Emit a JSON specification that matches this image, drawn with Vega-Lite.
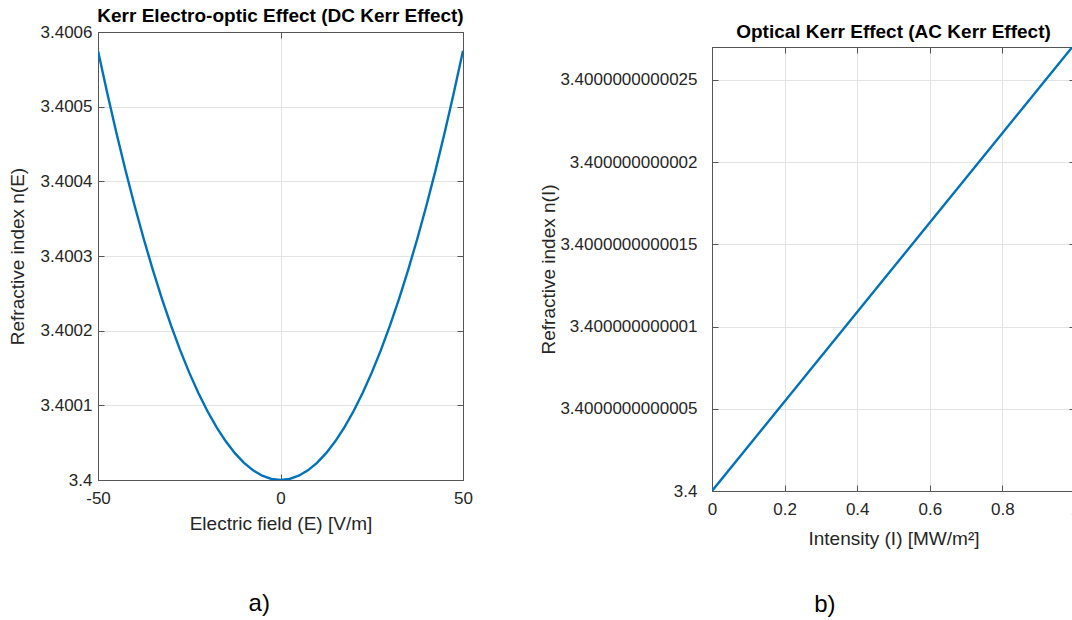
{
  "$schema": "https://vega.github.io/schema/vega-lite/v6.json",
  "background": "white",
  "padding": {"left": 7, "top": 5, "right": 0, "bottom": 0},
  "spacing": 66,
  "datasets": {
    "dc": [
      {"E": -50, "n": 3.400575},
      {"E": -47.5, "n": 3.4005189},
      {"E": -45, "n": 3.4004658},
      {"E": -42.5, "n": 3.4004154},
      {"E": -40, "n": 3.400368},
      {"E": -37.5, "n": 3.4003234},
      {"E": -35, "n": 3.4002818},
      {"E": -32.5, "n": 3.4002429},
      {"E": -30, "n": 3.400207},
      {"E": -27.5, "n": 3.4001739},
      {"E": -25, "n": 3.4001438},
      {"E": -22.5, "n": 3.4001164},
      {"E": -20, "n": 3.400092},
      {"E": -17.5, "n": 3.4000704},
      {"E": -15, "n": 3.4000518},
      {"E": -12.5, "n": 3.4000359},
      {"E": -10, "n": 3.400023},
      {"E": -7.5, "n": 3.4000129},
      {"E": -5, "n": 3.4000058},
      {"E": -2.5, "n": 3.4000014},
      {"E": 0, "n": 3.4},
      {"E": 2.5, "n": 3.4000014},
      {"E": 5, "n": 3.4000058},
      {"E": 7.5, "n": 3.4000129},
      {"E": 10, "n": 3.400023},
      {"E": 12.5, "n": 3.4000359},
      {"E": 15, "n": 3.4000518},
      {"E": 17.5, "n": 3.4000704},
      {"E": 20, "n": 3.400092},
      {"E": 22.5, "n": 3.4001164},
      {"E": 25, "n": 3.4001438},
      {"E": 27.5, "n": 3.4001739},
      {"E": 30, "n": 3.400207},
      {"E": 32.5, "n": 3.4002429},
      {"E": 35, "n": 3.4002818},
      {"E": 37.5, "n": 3.4003234},
      {"E": 40, "n": 3.400368},
      {"E": 42.5, "n": 3.4004154},
      {"E": 45, "n": 3.4004658},
      {"E": 47.5, "n": 3.4005189},
      {"E": 50, "n": 3.400575}
    ],
    "ac": [
      {"I": 0, "n": 3.4},
      {"I": 0.5, "n": 3.40000000000136},
      {"I": 1, "n": 3.40000000000272}
    ],
    "blank": [{"k": 0}]
  },
  "hconcat": [
    {
      "title": {"text": "a)", "orient": "bottom", "anchor": "middle", "fontSize": 24, "fontWeight": "normal", "color": "#000000", "offset": 58, "dx": 19},
      "spacing": 0,
      "vconcat": [
        {
          "width": 365,
          "height": 1,
          "data": {"name": "blank"},
          "view": {"stroke": null},
          "mark": {"type": "point", "opacity": 0, "size": 1},
          "encoding": {}
        },
        {
          "width": 365,
          "height": 448,
          "data": {"name": "dc"},
          "title": {"text": "Kerr Electro-optic Effect (DC Kerr Effect)", "offset": -3},
          "layer": [
            {
              "mark": {"type": "line", "color": "#0072BD", "strokeWidth": 2.4, "clip": true},
              "encoding": {
                "x": {"field": "E", "type": "quantitative", "scale": {"domain": [-50, 50], "nice": false, "zero": false},
                  "axis": {"orient": "bottom", "values": [-50, 0, 50], "labelExpr": "replace(format(datum.value, '~g'), '−', '-')", "title": "Electric field (E) [V/m]", "labelPadding": 16, "titlePadding": 8}},
                "y": {"field": "n", "type": "quantitative", "scale": {"domain": [3.4, 3.4006], "nice": false, "zero": false},
                  "axis": {"orient": "left", "values": [3.4, 3.4001, 3.4002, 3.4003, 3.4004, 3.4005, 3.4006], "labelExpr": "format(datum.value, '~g')", "title": "Refractive index n(E)", "labelPadding": 12, "titlePadding": 13}}
              }
            },
            {
              "mark": {"type": "line", "opacity": 0},
              "encoding": {
                "x": {"field": "E", "type": "quantitative", "scale": {"domain": [-50, 50], "nice": false, "zero": false},
                  "axis": {"orient": "top", "values": [-50, 0, 50], "labels": false, "grid": false, "title": null}},
                "y": {"field": "n", "type": "quantitative", "scale": {"domain": [3.4, 3.4006], "nice": false, "zero": false},
                  "axis": {"orient": "right", "values": [3.4, 3.4001, 3.4002, 3.4003, 3.4004, 3.4005, 3.4006], "labels": false, "grid": false, "title": null}}
              }
            }
          ],
          "resolve": {"axis": {"x": "independent", "y": "independent"}}
        }
      ]
    },
    {
      "title": {"text": "b)", "orient": "bottom", "anchor": "middle", "fontSize": 24, "fontWeight": "normal", "color": "#000000", "offset": 44, "dx": 15},
      "spacing": 16,
      "vconcat": [
        {
          "width": 363,
          "height": 1,
          "data": {"name": "blank"},
          "view": {"stroke": null},
          "mark": {"type": "point", "opacity": 0, "size": 1},
          "encoding": {}
        },
        {
          "width": 363,
          "height": 444,
          "data": {"name": "ac"},
          "title": {"text": "Optical Kerr Effect (AC Kerr Effect)", "offset": 2},
          "layer": [
            {
              "mark": {"type": "line", "color": "#0072BD", "strokeWidth": 2.4, "clip": true},
              "encoding": {
                "x": {"field": "I", "type": "quantitative", "scale": {"domain": [0, 1], "nice": false, "zero": false},
                  "axis": {"orient": "bottom", "values": [0, 0.2, 0.4, 0.6, 0.8, 1], "labelExpr": "format(datum.value, '~g')", "title": "Intensity (I) [MW/m²]", "labelPadding": 16, "titlePadding": 12}},
                "y": {"field": "n", "type": "quantitative", "scale": {"domain": [3.4, 3.4000000000027], "nice": false, "zero": false},
                  "axis": {"orient": "left", "values": [3.4, 3.4000000000005, 3.400000000001, 3.4000000000015, 3.400000000002, 3.4000000000025], "labelExpr": "format(datum.value, '.14~r')", "title": "Refractive index n(I)", "labelPadding": 21, "titlePadding": 1}}
              }
            },
            {
              "mark": {"type": "line", "opacity": 0},
              "encoding": {
                "x": {"field": "I", "type": "quantitative", "scale": {"domain": [0, 1], "nice": false, "zero": false},
                  "axis": {"orient": "top", "values": [0, 0.2, 0.4, 0.6, 0.8, 1], "labels": false, "grid": false, "title": null}},
                "y": {"field": "n", "type": "quantitative", "scale": {"domain": [3.4, 3.4000000000027], "nice": false, "zero": false},
                  "axis": {"orient": "right", "values": [3.4, 3.4000000000005, 3.400000000001, 3.4000000000015, 3.400000000002, 3.4000000000025], "labels": false, "grid": false, "title": null}}
              }
            }
          ],
          "resolve": {"axis": {"x": "independent", "y": "independent"}}
        }
      ]
    }
  ],
  "config": {
    "font": "Liberation Sans",
    "view": {"stroke": "#555555", "strokeWidth": 1},
    "axis": {
      "labelFont": "Liberation Sans",
      "labelFontSize": 17,
      "labelColor": "#262626",
      "titleFont": "Liberation Sans",
      "titleFontSize": 19,
      "titleFontWeight": "normal",
      "titleColor": "#262626",
      "domainColor": "#555555",
      "tickColor": "#555555",
      "tickSize": -6,
      "gridColor": "#e3e3e3",
      "labelFlush": false,
      "labelOverlap": false
    },
    "title": {"font": "Liberation Sans", "fontSize": 19, "fontWeight": "bold", "color": "#000000"}
  }
}
